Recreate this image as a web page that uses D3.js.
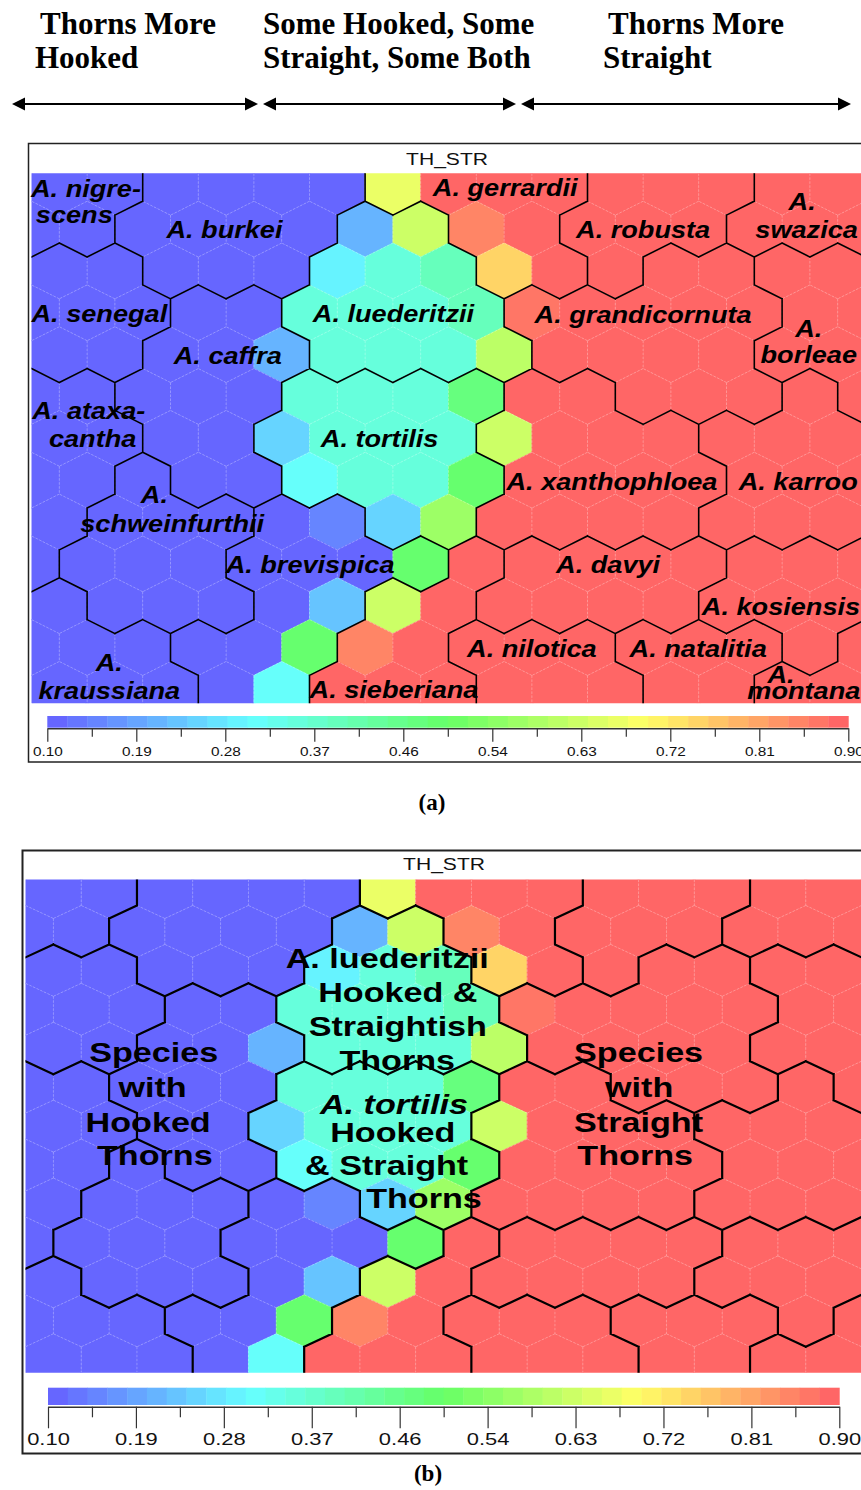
<!DOCTYPE html>
<html>
<head>
<meta charset="utf-8">
<script src="https://cdn.jsdelivr.net/npm/d3@7"></script>
<style>
  body { margin: 0; background: #fff; }
  svg { display: block; }
</style>
</head>
<body>
<svg id="fig" width="861" height="1490"></svg>
<script>
// ---------------------------------------------------------------
// SOM component plane "TH_STR" (thorn straightness), hexagonal lattice.
// Even rows hold 15 units, odd rows 16 (shifted half a unit left).
// ---------------------------------------------------------------
const thStr = [
  [0.10,0.10,0.10,0.10,0.10,0.10,0.66,0.90,0.90,0.90,0.90,0.90,0.90,0.90,0.90],
  [0.10,0.10,0.10,0.10,0.10,0.10,0.22,0.62,0.85,0.90,0.90,0.90,0.90,0.90,0.90,0.90],
  [0.10,0.10,0.10,0.10,0.10,0.29,0.35,0.39,0.74,0.90,0.90,0.90,0.90,0.90,0.90],
  [0.10,0.10,0.10,0.10,0.10,0.34,0.35,0.35,0.39,0.87,0.90,0.90,0.90,0.90,0.90,0.90],
  [0.10,0.10,0.10,0.10,0.22,0.35,0.35,0.35,0.61,0.90,0.90,0.90,0.90,0.90,0.90],
  [0.10,0.10,0.10,0.10,0.10,0.35,0.35,0.35,0.46,0.90,0.90,0.90,0.90,0.90,0.90,0.90],
  [0.10,0.10,0.10,0.10,0.24,0.35,0.35,0.35,0.63,0.90,0.90,0.90,0.90,0.90,0.90],
  [0.10,0.10,0.10,0.10,0.10,0.30,0.35,0.35,0.49,0.90,0.90,0.90,0.90,0.90,0.90,0.90],
  [0.10,0.10,0.10,0.10,0.10,0.14,0.25,0.58,0.90,0.90,0.90,0.90,0.90,0.90,0.90],
  [0.10,0.10,0.10,0.10,0.10,0.10,0.10,0.49,0.90,0.90,0.90,0.90,0.90,0.90,0.90,0.90],
  [0.10,0.10,0.10,0.10,0.10,0.23,0.63,0.90,0.90,0.90,0.90,0.90,0.90,0.90,0.90],
  [0.10,0.10,0.10,0.10,0.10,0.49,0.85,0.90,0.90,0.90,0.90,0.90,0.90,0.90,0.90,0.90],
  [0.10,0.10,0.10,0.10,0.31,0.90,0.90,0.90,0.90,0.90,0.90,0.90,0.90,0.90,0.90]
];

// Species cluster of every unit (same shape as thStr)
const cluster = [
  "NI NI BU BU BU BU GE GE GE GE RO RO RO SW SW",
  "NI NI BU BU BU BU LU LU GE GE RO RO RO SW SW SW",
  "SE SE BU BU BU LU LU LU GE GE RO GR GR BO BO",
  "SE SE SE CA CA LU LU LU LU GR GR GR GR GR BO BO",
  "SE SE CA CA CA LU LU LU LU GR GR GR GR BO BO",
  "AT AT CA CA CA TO TO TO TO XA XA GR GR GR KA BO",
  "AT AT CA CA TO TO TO TO XA XA XA XA KA KA KA",
  "AT AT SC CA CA TO TO TO TO XA XA XA XA KA KA KA",
  "AT SC SC SC BR BR TO TO XA XA XA XA KA KA KA",
  "AT SC SC SC BR BR BR BR SI DA DA DA DA KO KO KO",
  "KR SC SC SC BR BR SI SI DA DA DA DA KO KO KO",
  "KR KR KR BR BR BR SI SI NL NL NL NA NA NA KO MO",
  "KR KR KR BR BR SI SI SI NL NL NL NA NA MO MO"
].map(s => s.split(" "));

// Species names placed on the map (grid units: column, row-height)
const speciesLabels = [
  ["A. nigre-", 0.98, 0.416], ["scens", 0.77, 0.891],
  ["A. burkei", 3.47, 1.165],
  ["A. senegal", 1.22, 2.660],
  ["A. caffra", 3.53, 3.418],
  ["A. ataxa-", 1.03, 4.409], ["cantha", 1.10, 4.911],
  ["A.", 2.21, 5.915], ["schweinfurthii", 2.53, 6.424],
  ["A. brevispica", 5.01, 7.170],
  ["A.", 1.40, 8.916], ["kraussiana", 1.40, 9.428],
  ["A. luederitzii", 6.51, 2.660],
  ["A. tortilis", 6.26, 4.911],
  ["A. sieberiana", 6.52, 9.410],
  ["A. gerrardii", 8.52, 0.407],
  ["A. robusta", 11.00, 1.165],
  ["A.", 13.86, 0.658], ["swazica", 13.94, 1.165],
  ["A. grandicornuta", 11.00, 2.683],
  ["A.", 13.98, 2.929], ["borleae", 13.98, 3.406],
  ["A. xanthophloea", 10.44, 5.677],
  ["A. karroo", 13.79, 5.677],
  ["A. davyi", 10.37, 7.170],
  ["A. kosiensis", 13.48, 7.917],
  ["A. nilotica", 9.00, 8.675],
  ["A. natalitia", 11.99, 8.675],
  ["A.", 13.48, 9.141], ["montana", 13.89, 9.428]
];

// Group annotations (text, column, row-height, italic)
const groupLabels = [
  ["Species", 2.30, 3.509, false], ["with", 2.28, 4.189, false],
  ["Hooked", 2.20, 4.857, false], ["Thorns", 2.32, 5.499, false],
  ["Species", 11.00, 3.509, false], ["with", 11.01, 4.189, false],
  ["Straight", 11.00, 4.857, false], ["Thorns", 10.94, 5.499, false],
  ["A. luederitzii", 6.49, 1.705, false], ["Hooked &", 6.68, 2.359, false],
  ["Straightish", 6.68, 3.005, false], ["Thorns", 6.67, 3.660, false],
  ["A. tortilis", 6.61, 4.517, true], ["Hooked", 6.59, 5.057, false],
  ["& Straight", 6.48, 5.692, false], ["Thorns", 7.15, 6.331, false]
];

const tickLabels = ["0.10","0.19","0.28","0.37","0.46","0.54","0.63","0.72","0.81","0.90"];

const headerLines = [
  ["Thorns More", 40, 34], ["Hooked", 35, 68],
  ["Some Hooked, Some", 263, 34], ["Straight, Some Both", 263, 68],
  ["Thorns More", 608, 34], ["Straight", 603, 68]
];
const headerSpans = [[12, 258], [263, 516], [521, 851]];

// ---------------------------------------------------------------
const svg = d3.select("#fig");
const NLEV = 40;
const levelColors = d3.range(NLEV).map(i => d3.hsl(240 * (1 - i / (NLEV - 1)), 1, 0.7).formatHex());
const colorOf = d3.scaleQuantize().domain([0.1, 0.9]).range(levelColors);
const SANS = "'Liberation Sans', Arial, Helvetica, sans-serif";
const SERIF = "'Liberation Serif', 'Times New Roman', serif";

function drawPanel(cfg) {
  const g = svg.append("g");

  g.append("rect")
    .attr("x", cfg.frame.x).attr("y", cfg.frame.y)
    .attr("width", cfg.frame.w).attr("height", cfg.frame.h)
    .attr("fill", "none").attr("stroke", "#222").attr("stroke-width", cfg.frame.sw);

  g.append("text")
    .attr("transform", `translate(${cfg.title.x},${cfg.title.y}) scale(${cfg.title.sx},1)`)
    .attr("text-anchor", "middle").attr("font-family", SANS)
    .attr("font-size", cfg.title.size).attr("fill", "#111")
    .text("TH_STR");

  const xs = d3.scaleLinear().domain([0, 15]).range([cfg.map.left, cfg.map.right]);
  const ys = d3.scaleLinear().domain([0, 9.5]).range([cfg.map.top, cfg.map.bottom]);
  const W = xs(1) - xs(0), H = ys(1) - ys(0);

  const clipId = "mapclip" + cfg.id;
  g.append("clipPath").attr("id", clipId).append("rect")
    .attr("x", cfg.map.left).attr("y", cfg.map.top)
    .attr("width", cfg.map.right - cfg.map.left).attr("height", cfg.map.bottom - cfg.map.top);
  const mg = g.append("g").attr("clip-path", `url(#${clipId})`);

  const units = [];
  thStr.forEach((row, r) => row.forEach((v, k) => {
    const col = k + (r % 2 === 0 ? 0.5 : 0);
    units.push({ r, k, v, c: cluster[r][k], cx: xs(col), cy: ys(0.25 + 0.75 * r) });
  }));
  const verts = u => [
    [u.cx, u.cy - H / 2], [u.cx + W / 2, u.cy - H / 4], [u.cx + W / 2, u.cy + H / 4],
    [u.cx, u.cy + H / 2], [u.cx - W / 2, u.cy + H / 4], [u.cx - W / 2, u.cy - H / 4]
  ];

  mg.selectAll("path.cell").data(units).join("path").attr("class", "cell")
    .attr("d", u => "M" + verts(u).join("L") + "Z")
    .attr("fill", u => colorOf(u.v))
    .attr("stroke", u => colorOf(u.v)).attr("stroke-width", 0.6);

  const at = (r, k) => (cluster[r] && cluster[r][k] !== undefined) ? cluster[r][k] : null;
  let faint = "", bound = "";
  units.forEach(u => {
    const p = verts(u), even = u.r % 2 === 0;
    [
      [at(u.r, u.k + 1), p[1], p[2]],
      [at(u.r + 1, even ? u.k + 1 : u.k), p[2], p[3]],
      [at(u.r + 1, even ? u.k : u.k - 1), p[3], p[4]]
    ].forEach(([c, a, b]) => {
      if (c === null) return;
      const seg = `M${a}L${b}`;
      faint += seg;
      if (c !== u.c) bound += seg;
    });
  });
  mg.append("path").attr("d", faint).attr("fill", "none")
    .attr("stroke", "#fff").attr("stroke-opacity", 0.35)
    .attr("stroke-width", 0.8).attr("stroke-dasharray", "2.5,1.5");
  mg.append("path").attr("d", bound).attr("fill", "none")
    .attr("stroke", "#000").attr("stroke-width", cfg.lineW)
    .attr("stroke-linejoin", "miter").attr("stroke-linecap", "square");

  // text on the map
  g.append("g").selectAll("text").data(cfg.labels).join("text")
    .attr("transform", d => `translate(${xs(d[1])},${ys(d[2])}) scale(${cfg.labelSx},1)`)
    .attr("text-anchor", "middle").attr("font-family", SANS)
    .attr("font-weight", "bold").attr("font-size", cfg.labelSize)
    .attr("font-style", d => (cfg.allItalic || d[3]) ? "italic" : "normal")
    .attr("fill", "#000")
    .text(d => d[0]);

  // colour bar
  const cb = cfg.cbar;
  const bx = d3.scaleLinear().domain([0.1, 0.9]).range([cb.x0, cb.x1]);
  const step = 0.8 / NLEV;
  g.append("g").selectAll("rect").data(levelColors).join("rect")
    .attr("x", (d, i) => bx(0.1 + i * step))
    .attr("width", (d, i) => bx(0.1 + (i + 1) * step) - bx(0.1 + i * step) + 0.4)
    .attr("y", cb.y0).attr("height", cb.y1 - cb.y0)
    .attr("fill", d => d);

  const tickVals = tickLabels.map((t, i) => 0.1 + i * 0.8 / (tickLabels.length - 1));
  const major = d3.axisBottom(bx).tickValues(tickVals)
    .tickFormat((d, i) => tickLabels[i]).tickSize(cb.major).tickSizeOuter(0);
  const ag = g.append("g").attr("transform", `translate(0,${cb.axisY})`).call(major);
  ag.select(".domain").attr("stroke", "#333").attr("stroke-width", 1.4);
  ag.selectAll(".tick line").attr("stroke", "#333").attr("stroke-width", 1.2);
  ag.selectAll(".tick text")
    .attr("y", null).attr("dy", null)
    .attr("transform", `translate(0,${cb.labelY}) scale(${cb.sx},1)`)
    .attr("font-family", SANS).attr("font-size", cb.font).attr("fill", "#111");

  const mids = d3.pairs(tickVals).map(([a, b]) => (a + b) / 2);
  const minor = d3.axisBottom(bx).tickValues(mids).tickFormat("").tickSize(cb.minor).tickSizeOuter(0);
  const mgAxis = g.append("g").attr("transform", `translate(0,${cb.axisY})`).call(minor);
  mgAxis.select(".domain").remove();
  mgAxis.selectAll(".tick line").attr("stroke", "#333").attr("stroke-width", 1.2);
}

// header: three thorn-shape categories with double arrows
svg.append("g").selectAll("text").data(headerLines).join("text")
  .attr("x", d => d[1]).attr("y", d => d[2])
  .attr("font-family", SERIF).attr("font-weight", "bold").attr("font-size", 31)
  .attr("fill", "#000").text(d => d[0]);

const arrowY = 104;
const ag = svg.append("g");
headerSpans.forEach(([x1, x2]) => {
  ag.append("line").attr("x1", x1 + 8).attr("x2", x2 - 8)
    .attr("y1", arrowY).attr("y2", arrowY)
    .attr("stroke", "#000").attr("stroke-width", 2.2);
  ag.append("path").attr("d", `M${x1},${arrowY}L${x1 + 13},${arrowY - 6.5}L${x1 + 13},${arrowY + 6.5}Z`).attr("fill", "#000");
  ag.append("path").attr("d", `M${x2},${arrowY}L${x2 - 13},${arrowY - 6.5}L${x2 - 13},${arrowY + 6.5}Z`).attr("fill", "#000");
});

drawPanel({
  id: "a",
  frame: { x: 28.5, y: 143.5, w: 880, h: 618.5, sw: 1.5 },
  title: { x: 447, y: 165, size: 17, sx: 1.24 },
  map: { left: 31.5, right: 865.5, top: 173.3, bottom: 703.3 },
  lineW: 1.6,
  labels: speciesLabels, labelSize: 23, labelSx: 1.18, allItalic: true,
  cbar: { x0: 47.3, x1: 848.3, y0: 716, y1: 727.7, axisY: 728.3, major: 13.4, minor: 8.4,
          labelY: 27.7, font: 12, sx: 1.28 }
});

drawPanel({
  id: "b",
  frame: { x: 22.5, y: 850.5, w: 880, h: 603, sw: 2 },
  title: { x: 444, y: 870, size: 17, sx: 1.24 },
  map: { left: 25.5, right: 861.5, top: 879.5, bottom: 1372.7 },
  lineW: 2.2,
  labels: groupLabels, labelSize: 28, labelSx: 1.22, allItalic: false,
  cbar: { x0: 48, x1: 839.3, y0: 1387.7, y1: 1405, axisY: 1406.7, major: 21.6, minor: 10.6,
          labelY: 38.3, font: 17, sx: 1.29 }
});

// panel captions
svg.append("g").selectAll("text").data([["(a)", 432, 810], ["(b)", 428, 1481]]).join("text")
  .attr("x", d => d[1]).attr("y", d => d[2]).attr("text-anchor", "middle")
  .attr("font-family", SERIF).attr("font-weight", "bold").attr("font-size", 23)
  .attr("fill", "#000").text(d => d[0]);
</script>
</body>
</html>
